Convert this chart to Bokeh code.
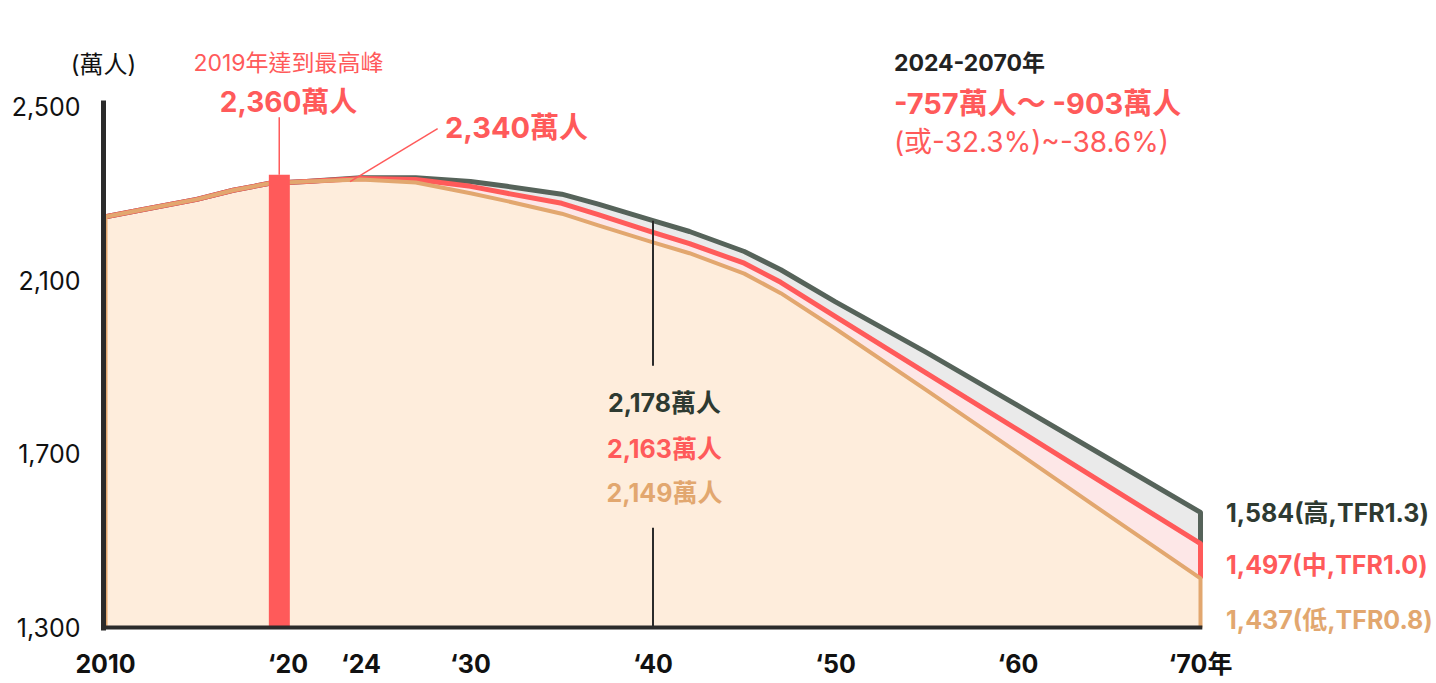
from bokeh.plotting import figure
from bokeh.models import FixedTicker, Label, Range1d
from bokeh.embed import file_html
from bokeh.resources import INLINE

# ---- data (萬人) ----
years = [2010, 2012, 2015, 2017, 2019, 2021, 2024, 2027, 2030, 2032, 2035, 2037, 2040,
         2042, 2045, 2047, 2050, 2055, 2060, 2065, 2070]
low = [2246, 2262, 2286, 2307, 2323, 2327, 2332, 2325, 2300, 2282, 2253, 2226, 2187,
       2162, 2115, 2070, 1988, 1846, 1702, 1557, 1413]
mid = [2246, 2262, 2286, 2307, 2323, 2327, 2334, 2332, 2316, 2300, 2277, 2251, 2210,
       2184, 2139, 2095, 2016, 1885, 1755, 1624, 1493]
high = [2246, 2262, 2286, 2307, 2323, 2327, 2336, 2336, 2327, 2316, 2298, 2275, 2237,
        2212, 2166, 2124, 2050, 1933, 1811, 1688, 1565]

peak_year = 2019
peak_value = 2343

tick_years = [2010, 2020, 2024, 2030, 2040, 2050, 2060, 2070]
tick_labels = ["2010", "\u201820", "\u201824", "\u201830", "\u201840", "\u201850", "\u201860", "\u201870年"]
y_ticks = [1300, 1700, 2100, 2500]

mark_year = 2040
mark_labels = ["2,178萬人", "2,163萬人", "2,149萬人"]
end_labels = ["1,584(高,TFR1.3)", "1,497(中,TFR1.0)", "1,437(低,TFR0.8)"]

base = 1300

# ---- styles ----
FONT = "Inter, 'Noto Sans CJK TC', sans-serif"
C_HIGH = "#56635A"
C_MID = "#FF5A5A"
C_LOW = "#E2A76F"
F_HIGH = "#EAEAEA"
F_MID = "#FDE7E7"
F_LOW = "#FEEDDC"
C_AXIS = "#2B2B2B"
C_DARKTXT = "#2E3A31"

PX_X = 18.25      # px per year
PX_Y = 0.4342     # px per 萬人

x0 = 2010 - 105 / PX_X
x1 = 2010 + 1331 / PX_X
y0 = base - 56 / PX_Y
y1 = base + 597 / PX_Y

p = figure(width=1436, height=683,
           x_range=Range1d(x0, x1), y_range=Range1d(y0, y1),
           output_backend="svg", toolbar_location=None,
           min_border_left=0, min_border_right=0,
           min_border_top=30, min_border_bottom=0)
p.outline_line_color = None
p.grid.visible = False
p.background_fill_color = "white"

# fills
p.varea(x=years, y1=mid, y2=high, fill_color=F_HIGH)
p.varea(x=years, y1=low, y2=mid, fill_color=F_MID)
p.varea(x=years, y1=[base] * len(years), y2=low, fill_color=F_LOW)

# lines, with the closing vertical edges at 2070
p.line(x=years + [years[-1]], y=high + [mid[-1]], line_color=C_HIGH, line_width=5,
       line_join="round")
p.line(x=years + [years[-1]], y=mid + [low[-1]], line_color=C_MID, line_width=5,
       line_join="round")
p.line(x=[years[0]] + years + [years[-1]], y=[base] + low + [base],
       line_color=C_LOW, line_width=4, line_join="round")

# peak bar
p.quad(left=[peak_year - 0.05], right=[peak_year + 1.1], bottom=[base], top=[peak_value],
       fill_color=C_MID, line_color=None)
p.segment(x0=[peak_year + 0.52], y0=[peak_value], x1=[peak_year + 0.52], y1=[2475],
          line_color=C_MID, line_width=1.5)

# leader to 2,340
p.segment(x0=[2023.4], y0=[2327], x1=[2028.2], y1=[2449], line_color=C_MID, line_width=1.5)

# 2040 marker line (broken around labels)
i40 = years.index(mark_year)
p.segment(x0=[mark_year, mark_year], y0=[high[i40], 1530], x1=[mark_year, mark_year],
          y1=[1903, base], line_color=C_AXIS, line_width=2)

# axis lines (drawn to the extent used in the reference)
ax_x = 2010 - 2 / PX_X
p.segment(x0=[ax_x], y0=[base - 3 / PX_Y], x1=[ax_x], y1=[base + 527 / PX_Y],
          line_color=C_AXIS, line_width=5)
p.segment(x0=[ax_x - 0.1], y0=[base], x1=[2070.1], y1=[base],
          line_color=C_AXIS, line_width=4)

# axes (labels only, anchored at the drawn axis lines)
for ax in (p.xaxis[0], p.yaxis[0]):
    ax.axis_line_color = None
    ax.major_tick_line_color = None
    ax.minor_tick_line_color = None
    ax.major_tick_out = 0
    ax.major_tick_in = 0
    ax.major_label_text_font = FONT
    ax.major_label_text_color = "#111111"
p.xaxis.ticker = FixedTicker(ticks=tick_years)
p.xaxis.major_label_overrides = {t: l for t, l in zip(tick_years, tick_labels)}
p.xaxis.fixed_location = base
p.xaxis.major_label_standoff = 21
p.xaxis.major_label_text_font_size = "25px"
p.xaxis.major_label_text_font_style = "bold"
p.yaxis.ticker = FixedTicker(ticks=y_ticks)
p.yaxis.major_label_overrides = {t: f"{t:,}" for t in y_ticks}
p.yaxis.fixed_location = ax_x
p.yaxis.major_label_standoff = 23
p.yaxis.major_label_text_font_size = "25px"


def lab(x, y, text, size, color, align="left", bold=False):
    p.add_layout(Label(x=x, y=y, text=text, text_font=FONT, text_font_size=size,
                       text_color=color, text_align=align, text_baseline="middle",
                       text_font_style="bold" if bold else "normal"))


lab(ax_x, 2597, "(萬人)", "24px", "#111111", align="center")
lab(2020.03, 2599, "2019年達到最高峰", "23px", C_MID, align="center")
lab(2020.03, 2511, "2,360萬人", "28px", C_MID, align="center", bold=True)
lab(2028.6, 2452, "2,340萬人", "29px", C_MID, bold=True)
lab(2053.2, 2599, "2024-2070年", "23px", "#222222", bold=True)
lab(2053.2, 2507, "-757萬人～ -903萬人", "29px", C_MID, bold=True)
lab(2053.2, 2417, "(或-32.3%)~-38.6%)", "28px", C_MID)

for lbl, yv, col in zip(mark_labels, [1816, 1712, 1609], [C_DARKTXT, C_MID, C_LOW]):
    lab(mark_year + 0.63, yv, lbl, "25px", col, align="center", bold=True)

for lbl, yv, col in zip(end_labels, [1563, 1443, 1318], [C_DARKTXT, C_MID, C_LOW]):
    lab(2071.4, yv, lbl, "25px", col, bold=True)

open("out.html", "w").write(file_html(p, INLINE))
